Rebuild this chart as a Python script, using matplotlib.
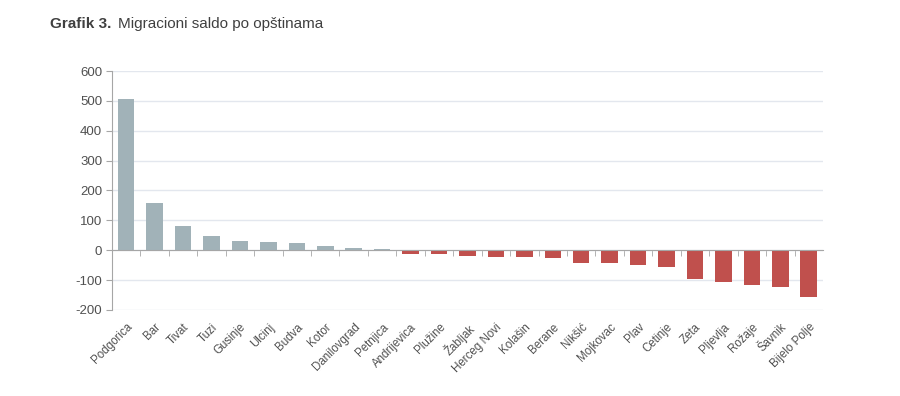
import matplotlib.pyplot as plt
import numpy as np

plt.rcParams['font.family'] = ['Liberation Sans', 'DejaVu Sans']

municipalities = ['Podgorica', 'Bar', 'Tivat', 'Tuzi', 'Gusinje', 'Ulcinj', 'Budva', 'Kotor',
                  'Danilovgrad', 'Petnjica', 'Andrijevica', 'Plužine', 'Žabljak', 'Herceg Novi',
                  'Kolašin', 'Berane', 'Nikšić', 'Mojkovac', 'Plav', 'Cetinje', 'Zeta',
                  'Pljevlja', 'Rožaje', 'Šavnik', 'Bijelo Polje']
saldo = [507, 158, 81, 47, 30, 27, 23, 13, 8, 4, -11, -14, -18, -21, -21, -25, -42, -44,
         -51, -55, -95, -107, -118, -124, -157]
yticks = [-200, -100, 0, 100, 200, 300, 400, 500, 600]

pos_color = '#a1b2b8'
neg_color = '#c0504d'
text_color = '#505050'

fig = plt.figure(figsize=(9, 3.96), dpi=100)
ax = fig.add_axes([0.1244, 0.2172, 0.79, 0.6035])

x = np.arange(len(municipalities))
colors = [pos_color if v >= 0 else neg_color for v in saldo]
ax.bar(x, saldo, width=0.58, color=colors, zorder=3)

ax.set_xlim(-0.5, len(municipalities) - 0.5)
ax.set_ylim(-200, 600)
ax.set_yticks(yticks)
ax.set_yticklabels([str(v) for v in yticks])
ax.grid(axis='y', color='#e3e7ee', linewidth=1, zorder=0)

for s in ['top', 'right']:
    ax.spines[s].set_visible(False)
ax.spines['left'].set_color('#a6a6a6')
ax.spines['bottom'].set_position(('data', 0))
ax.spines['bottom'].set_color('#a6a6a6')
ax.spines['bottom'].set_zorder(4)

ax.tick_params(axis='y', colors='#a6a6a6', labelcolor=text_color, labelsize=9.5, length=4, pad=3)

# category labels below the plot, tick marks at boundaries on zero line
ax.set_xticks(x)
ax.set_xticklabels(municipalities, rotation=45, ha='right', rotation_mode='anchor')
ax.tick_params(axis='x', which='major', length=0, pad=51, labelsize=8.3, labelcolor=text_color)
ax.set_xticks(np.arange(0.5, len(municipalities) - 0.5, 1), minor=True)
ax.tick_params(axis='x', which='minor', length=4, color='#a6a6a6', direction='out')

fig.text(0.055, 0.93, 'Grafik 3.', fontsize=11, fontweight='bold', color='#404040')
fig.text(0.131, 0.93, 'Migracioni saldo po opštinama', fontsize=11, color='#404040')

fig.savefig('out.png', dpi=100)
